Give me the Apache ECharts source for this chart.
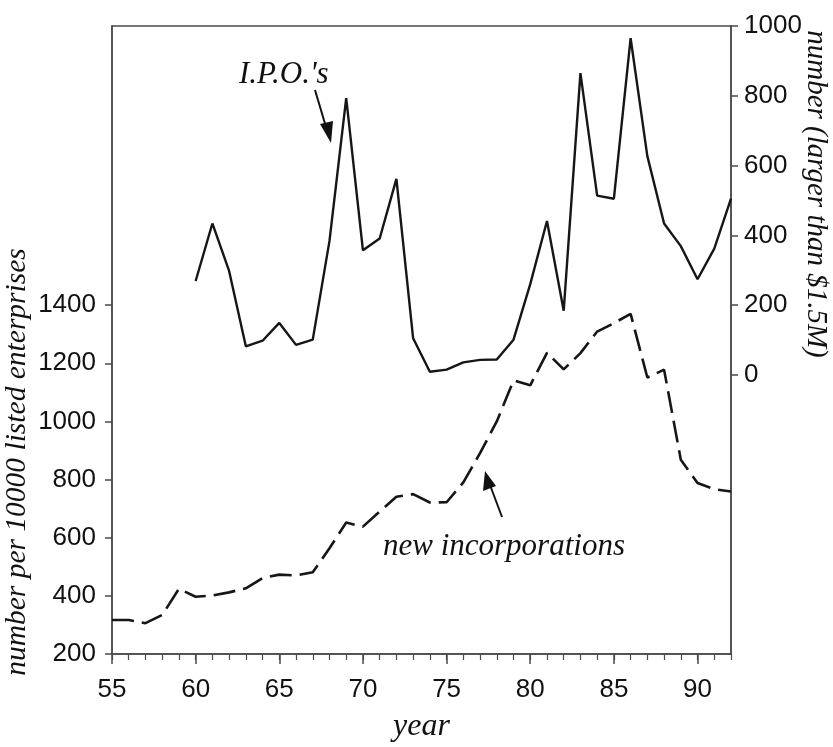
<!DOCTYPE html>
<html>
<head>
<meta charset="utf-8">
<script src="https://cdn.jsdelivr.net/npm/echarts@6/dist/echarts.min.js"></script>
<style>html,body{margin:0;padding:0;background:#fff}#c{width:833px;height:747px}</style>
</head>
<body>
<div id="c"></div>
<script>
// Years
const years = [55,56,57,58,59,60,61,62,63,64,65,66,67,68,69,70,71,72,73,74,75,76,77,78,79,80,81,82,83,84,85,86,87,88,89,90,91,92];
// New incorporations per 10000 listed enterprises (left axis), 1955-1992
const newIncorporations = [317,317,306,334,424,397,401,412,426,461,473,470,481,564,652,638,690,741,750,721,722,790,891,1000,1141,1124,1236,1179,1235,1309,1338,1370,1151,1178,868,788,767,759];
// I.P.O.'s, number larger than $1.5M (right axis), 1960-1992
const ipoYears = [60,61,62,63,64,65,66,67,68,69,70,71,72,73,74,75,76,77,78,79,80,81,82,83,84,85,86,87,88,89,90,91,92];
const ipos = [269,434,298,82,98,149,86,101,384,793,357,391,562,105,9,15,36,43,44,101,260,441,184,865,514,505,965,627,434,369,274,362,505];
// Tick labels
const xTickLabels = [55,60,65,70,75,80,85,90];
const leftTickLabels = [200,400,600,800,1000,1200,1400];
const rightTickLabels = [0,200,400,600,800,1000];

const chart = echarts.init(document.getElementById('c'), null, {renderer:'canvas'});
const numFont = '"Liberation Sans Narrow","Arial Narrow","Liberation Sans",sans-serif';
const serif = '"Liberation Serif","DejaVu Serif",serif';
const axisColor = '#4a4a4a';
const plain = v => String(v);

chart.setOption({
  animation: false,
  backgroundColor: '#fff',
  grid: {left:112, right:102, top:26, bottom:93, containLabel:false, outerBoundsMode:'none', show:true, borderColor:axisColor, borderWidth:1.5},
  xAxis: [{
    type:'value', min:55, max:92, interval:5,
    axisLine:{show:true, onZero:false, lineStyle:{color:axisColor, width:1.5}},
    axisTick:{show:true, length:10, lineStyle:{color:axisColor, width:1.5}, customValues: xTickLabels},
    axisLabel:{customValues: xTickLabels, formatter:plain, fontFamily:numFont, fontSize:26, color:'#111', margin:23},
    splitLine:{show:false},
    name:'year', nameLocation:'middle', nameGap:57,
    nameTextStyle:{fontFamily:serif, fontStyle:'italic', fontSize:32, color:'#111'}
  },{
    type:'value', min:55, max:92, interval:1, position:'bottom',
    axisLine:{show:false, onZero:false},
    axisTick:{show:true, length:6, lineStyle:{color:axisColor, width:1.2}},
    axisLabel:{show:false},
    splitLine:{show:false}
  }],
  yAxis: [{
    type:'value', min:200, max:2360, position:'left',
    axisLine:{show:true, onZero:false, lineStyle:{color:axisColor, width:1.5}},
    axisTick:{show:true, length:7, customValues:leftTickLabels, lineStyle:{color:axisColor, width:1.5}},
    axisLabel:{customValues:leftTickLabels, formatter:plain, fontFamily:numFont, fontSize:26, color:'#111', margin:16},
    splitLine:{show:false}
  },{
    type:'value', min:-800, max:1000, position:'right',
    axisLine:{show:true, onZero:false, lineStyle:{color:axisColor, width:1.5}},
    axisTick:{show:true, length:7, customValues:rightTickLabels, lineStyle:{color:axisColor, width:1.5}},
    axisLabel:{customValues:rightTickLabels, formatter:plain, fontFamily:numFont, fontSize:26, color:'#111', margin:13},
    splitLine:{show:false}
  }],
  series: [{
    name:'new incorporations', type:'line', xAxisIndex:0, yAxisIndex:0,
    data: years.map((y,i)=>[y, newIncorporations[i]]),
    showSymbol:false, symbol:'none',
    lineStyle:{color:'#161616', width:2.6, type:[22,8]}
  },{
    name:"I.P.O.'s", type:'line', xAxisIndex:0, yAxisIndex:1,
    data: ipoYears.map((y,i)=>[y, ipos[i]]),
    showSymbol:false, symbol:'none',
    lineStyle:{color:'#161616', width:2.4}
  }],
  graphic: [
    {type:'text', x:239, y:75, style:{text:"I.P.O.'s", font:'italic 31px "Liberation Serif", serif', fill:'#111', verticalAlign:'middle'}},
    {type:'line', shape:{x1:315, y1:90, x2:326, y2:127}, style:{stroke:'#111', lineWidth:2}},
    {type:'polygon', shape:{points:[[331,143],[320,124],[333,121]]}, style:{fill:'#111'}},
    {type:'text', x:383, y:547, style:{text:'new incorporations', font:'italic 31px "Liberation Serif", serif', fill:'#111', verticalAlign:'middle'}},
    {type:'line', shape:{x1:502, y1:517, x2:490, y2:485}, style:{stroke:'#111', lineWidth:2}},
    {type:'polygon', shape:{points:[[485,471],[483,491],[496,486]]}, style:{fill:'#111'}},
    {type:'text', x:17, y:462, rotation:Math.PI/2, style:{text:'number per 10000 listed enterprises', font:'italic 29.5px "Liberation Serif", serif', fill:'#111', align:'center', verticalAlign:'middle'}},
    {type:'text', x:816, y:194, rotation:-Math.PI/2, style:{text:'number (larger than $1.5M)', font:'italic 29px "Liberation Serif", serif', fill:'#111', align:'center', verticalAlign:'middle'}}
  ]
});
</script>
</body>
</html>
